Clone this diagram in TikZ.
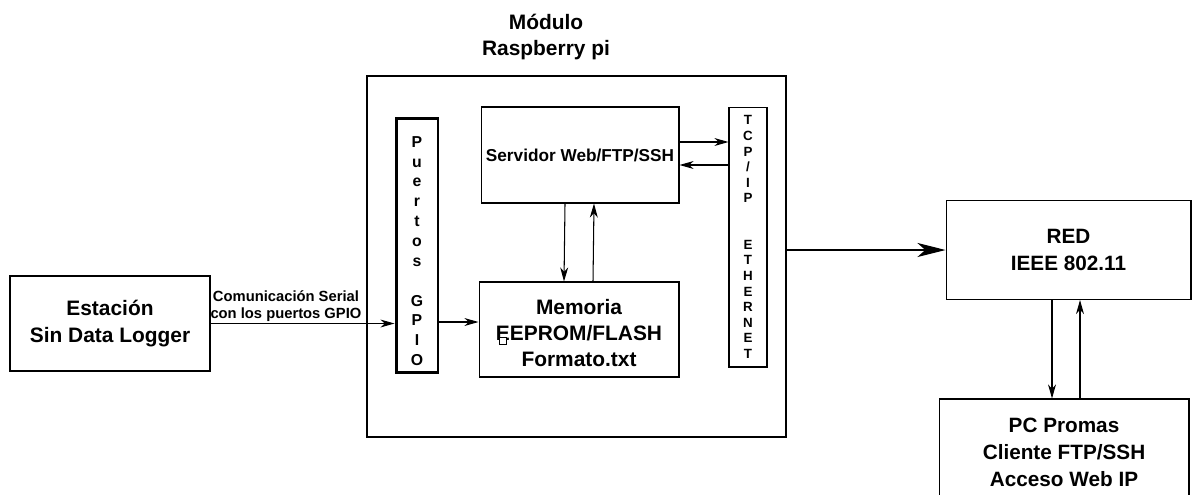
\documentclass[tikz,border=0pt]{standalone}
\usepackage{fontspec}
\setmainfont{Liberation Sans}
\usetikzlibrary{arrows.meta}

\begin{document}
\begin{tikzpicture}[x=0.02cm, y=-0.02cm,
  caja/.style={draw, line width=0.6pt, inner sep=0pt, align=center},
  letras/.style={align=center, inner sep=0pt},
  flecha/.style={line width=0.6pt, -{Stealth[length=8pt, width=4.5pt, inset=2.5pt]}},
  grande/.style={line width=0.6pt, -{Stealth[length=16pt, width=8pt, inset=4.5pt]}}]

\useasboundingbox (0,0) rectangle (1192,494);
\clip (0,0) rectangle (1192,494);

\node[align=center, font=\fontsize{11.9}{14.7}\selectfont\bfseries] (titulo) at (546,37) {Módulo\\Raspberry pi};
\node[draw, line width=1.4pt, minimum width=8.38cm, minimum height=7.22cm] (modulo) at (576.5,256.5) {};
\node[draw, line width=1.7pt, minimum width=0.84cm, minimum height=5.1cm] (gpio) at (417,245.5) {};
\node[letras, font=\fontsize{9}{11.3}\selectfont\bfseries] (gpiotexto) at (417,251) {P\\u\\e\\r\\t\\o\\s\\~\\G\\P\\I\\O};
\node[caja, minimum width=3.96cm, minimum height=1.92cm, font=\fontsize{9.8}{11}\selectfont\bfseries] (servidor) at (580,155) {Servidor Web/FTP/SSH};
\node[draw, line width=0.6pt, minimum width=4cm, minimum height=1.9cm] (memoria) at (579,329.5) {};
\node[letras, font=\fontsize{11.9}{15}\selectfont\bfseries] (memoriatexto) at (579,333) {Memoria\\EEPROM/FLASH\\Formato.txt};
\node[caja, minimum width=0.76cm, minimum height=5.2cm, font=\fontsize{7.6}{8.85}\selectfont\bfseries] (tcp) at (748,237) {T\\C\\P\\/\\I\\P\\~\\~\\E\\T\\H\\E\\R\\N\\E\\T};
\node[caja, minimum width=4cm, minimum height=1.9cm, font=\fontsize{11.9}{15.8}\selectfont\bfseries] (estacion) at (110,323.5) {Estación\\Sin Data Logger};
\node[caja, minimum width=4.9cm, minimum height=1.98cm, font=\fontsize{11.8}{15.3}\selectfont\bfseries] (red) at (1068.5,250) {RED\\IEEE 802.11};
\node[caja, minimum width=5cm, minimum height=2.12cm, font=\fontsize{11.8}{15.3}\selectfont\bfseries] (pc) at (1064,452) {PC Promas\\Cliente FTP/SSH\\Acceso Web IP};
\node[draw, fill=white, line width=0.5pt, inner sep=0pt, minimum size=0.14cm] (marca) at (503,341) {};

\draw[flecha] (estacion.east) -- (estacion.east -| gpio.west) node[pos=0.41, above=-2.3pt, align=center, font=\fontsize{8.4}{9.6}\selectfont\bfseries] {Comunicación Serial\\con los puertos GPIO};
\draw[flecha] ([yshift=0.15cm]memoria.west -| gpio.east) -- ([yshift=0.15cm]memoria.west);
\draw[flecha] ([xshift=-0.3cm]servidor.south) -- ([xshift=-0.3cm]memoria.north);
\draw[flecha] ([xshift=0.28cm]memoria.north) -- ([xshift=0.28cm]servidor.south);
\draw[flecha] ([yshift=0.26cm]servidor.east) -- ([yshift=0.26cm]servidor.east -| tcp.west);
\draw[flecha] ([yshift=-0.2cm]servidor.east -| tcp.west) -- ([yshift=-0.2cm]servidor.east);
\draw[grande] (modulo.east |- red.west) -- (red.west);
\draw[flecha] ([xshift=-0.33cm]red.south) -- ([xshift=-0.33cm]red.south |- pc.north);
\draw[flecha] ([xshift=0.23cm]red.south |- pc.north) -- ([xshift=0.23cm]red.south);
\end{tikzpicture}
\end{document}
